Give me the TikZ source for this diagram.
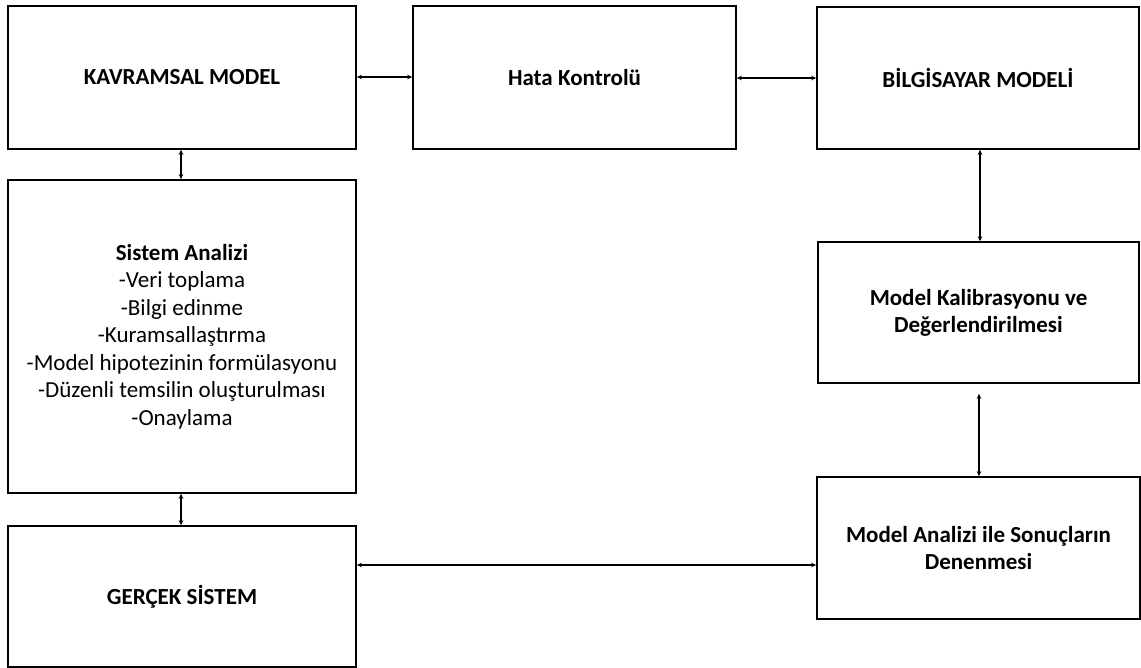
\documentclass[tikz,border=0pt]{standalone}
\usepackage{fontspec}
\setmainfont{Carlito}
\usetikzlibrary{arrows.meta}
\begin{document}
\begin{tikzpicture}[x=1pt,y=-1pt,
  box/.style={draw=black,line width=1.6pt,minimum width=#1,inner sep=0pt,align=center,font=\fontsize{23}{27}\selectfont\bfseries},
  conn/.style={line width=1.3pt,{Stealth[length=5pt,width=4.5pt]}-{Stealth[length=5pt,width=4.5pt]}}]
\useasboundingbox (0,0) rectangle (1141,668);
\node[box=348pt,minimum height=143pt] (kav) at (182,77.5) {KAVRAMSAL MODEL};
\node[box=323pt,minimum height=143pt] (hata) at (574.5,77.5) {Hata Kontrolü};
\node[box=322pt,minimum height=142pt] (bil) at (978,78) {BİLGİSAYAR MODELİ};
\node[box=348pt,minimum height=313pt,font=\fontsize{23}{27.5}\selectfont] (sis) at (182,336.5)
  {\textbf{Sistem Analizi}\\-Veri toplama\\-Bilgi edinme\\-Kuramsallaştırma\\-Model hipotezinin formülasyonu\\-Düzenli temsilin oluşturulması\\-Onaylama};
\node[box=348pt,minimum height=141pt] (ger) at (182,596.5) {GERÇEK SİSTEM};
\node[box=321pt,minimum height=141pt] (kal) at (978.5,312.5) {Model Kalibrasyonu ve\\Değerlendirilmesi};
\node[box=323pt,minimum height=142pt] (ana) at (978.5,548) {Model Analizi ile Sonuçların\\Denenmesi};
\draw[conn] (kav.east |- 0,77) -- (hata.west |- 0,77);
\draw[conn] (hata.east |- 0,78) -- (bil.west |- 0,78);
\draw[conn] (kav.south -| 181,0) -- (sis.north -| 181,0);
\draw[conn] (sis.south -| 181,0) -- (ger.north -| 181,0);
\draw[conn] (bil.south -| 980,0) -- (kal.north -| 980,0);
\draw[conn,shorten <=10pt] (kal.south -| 979,0) -- (ana.north -| 979,0);
\draw[conn] (ger.east |- 0,565) -- (ana.west |- 0,565);
\end{tikzpicture}
\end{document}
